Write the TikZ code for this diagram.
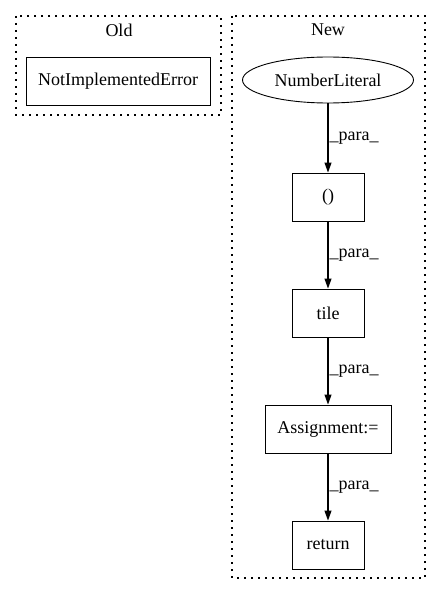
\documentclass[tikz,border=0pt]{standalone}
\usepackage{fontspec}
\setmainfont{Liberation Serif}
\usetikzlibrary{arrows.meta,shapes.geometric}

\tikzset{
  box/.style={draw,line width=0.9pt,inner sep=0pt,minimum height=48pt},
  lit/.style={draw,ellipse,line width=0.9pt,inner sep=0pt,minimum width=171pt,minimum height=46pt},
  cluster/.style={draw,line width=1.1pt,dash pattern=on 1.6pt off 5.4pt},
  flow/.style={line width=1.1pt,-{Triangle[length=10pt,width=7pt]}},
  lbl/.style={right,inner sep=1pt}
}

\begin{document}
\begin{tikzpicture}[x=1pt,y=-1pt,font=\fontsize{18}{20}\selectfont]
    \useasboundingbox (0,0) rectangle (440,596);
    % clusters
    \draw[cluster](16,16)rectangle(221,115);
    \draw[cluster](232,16)rectangle(425,578);
    \node (oldlbl) at (119,30) {Old};
    \node (newlbl) at (328,30) {New};
    % nodes
    \node[box,minimum width=184pt] (err) at (118,81) {NotImplementedError};
    \node[lit] (num) at (328,80) {NumberLiteral};
    \node[box,minimum width=72pt] (paren) at (328,197) {()};
    \node[box,minimum width=72pt] (tile) at (328,313) {tile};
    \node[box,minimum width=126pt] (assign) at (328,429) {Assignment:=};
    \node[box,minimum width=72pt] (ret) at (328,545) {return};
    % edges
    \draw[flow](num)--node[lbl]{\_para\_}(paren);
    \draw[flow](paren)--node[lbl]{\_para\_}(tile);
    \draw[flow](tile)--node[lbl]{\_para\_}(assign);
    \draw[flow](assign)--node[lbl]{\_para\_}(ret);
\end{tikzpicture}
\end{document}
